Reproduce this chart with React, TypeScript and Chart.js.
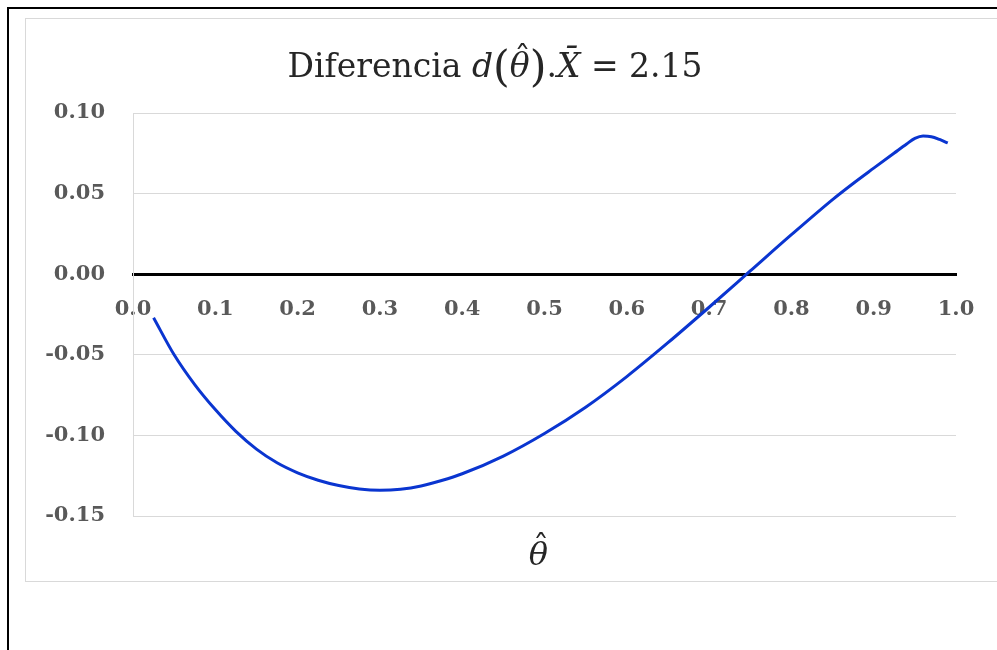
import React, { useEffect, useRef } from "react";
import { Chart, registerables } from "chart.js";

Chart.register(...registerables);

const thetaValues = [0.025, 0.05, 0.075, 0.1, 0.125, 0.15, 0.175, 0.2, 0.225, 0.25, 0.275, 0.3, 0.325, 0.35, 0.375, 0.4, 0.45, 0.5, 0.55, 0.6, 0.65, 0.7, 0.75, 0.8, 0.85, 0.875, 0.9, 0.925, 0.94, 0.95, 0.96, 0.97, 0.98, 0.99];
const diffValues = [-0.027, -0.05, -0.0685, -0.084, -0.0975, -0.1085, -0.117, -0.1232, -0.1278, -0.1311, -0.1332, -0.134, -0.1334, -0.1314, -0.128, -0.1238, -0.1128, -0.0988, -0.0825, -0.0635, -0.0425, -0.0205, 0.002, 0.0245, 0.0463, 0.0563, 0.0658, 0.0752, 0.0808, 0.0842, 0.0857, 0.0853, 0.0836, 0.0814];

const yTicks = [0.1, 0.05, 0, -0.05, -0.1, -0.15];
const xTickStep = 0.1;

type Part = { text: string; style: "normal" | "italic"; size: number; dy: number; accent?: string };
const titleParts: Part[] = [
  { text: "Diferencia ", style: "normal", size: 33, dy: 0 },
  { text: "d", style: "italic", size: 33, dy: 0 },
  { text: "(", style: "normal", size: 43, dy: 4 },
  { text: "\u03B8", style: "italic", size: 33, dy: 0, accent: "\u02C6" },
  { text: ")", style: "normal", size: 43, dy: 4 },
  { text: ".", style: "normal", size: 33, dy: 0 },
  { text: "X\u0304", style: "italic", size: 33, dy: 0 },
  { text: " = 2.15", style: "normal", size: 33, dy: 0 },
];
const axisTitle = "\u03B8";
const axisAccent = "\u02C6";

const SERIF = "'DejaVu Serif', 'Liberation Serif', serif";

function drawAccented(ctx: CanvasRenderingContext2D, text: string, accent: string, x: number, y: number, size: number) {
  ctx.font = `italic ${size}px ${SERIF}`;
  const w = ctx.measureText(text).width;
  ctx.fillText(text, x, y);
  ctx.font = `normal ${size}px ${SERIF}`;
  const aw = ctx.measureText(accent).width;
  ctx.fillText(accent, x + w / 2 - aw / 2 + size * 0.08, y - size * 0.22);
  return w;
}

const textPlugin = {
  id: "customText",
  afterDraw(chart: any) {
    const ctx = chart.ctx as CanvasRenderingContext2D;
    ctx.save();
    ctx.fillStyle = "#262626";
    ctx.textBaseline = "alphabetic";
    ctx.textAlign = "left";
    const widths = titleParts.map((p) => {
      ctx.font = `${p.style} ${p.size}px ${SERIF}`;
      return ctx.measureText(p.text).width;
    });
    const total = widths.reduce((a, b) => a + b, 0);
    let x = 469 - total / 2;
    const baseline = 58;
    titleParts.forEach((p, i) => {
      if (p.accent) {
        drawAccented(ctx, p.text, p.accent, x, baseline + p.dy, p.size);
      } else {
        ctx.font = `${p.style} ${p.size}px ${SERIF}`;
        ctx.fillText(p.text, x, baseline + p.dy);
      }
      x += widths[i];
    });
    const area = chart.chartArea;
    ctx.font = `italic 32px ${SERIF}`;
    const tw = ctx.measureText(axisTitle).width;
    drawAccented(ctx, axisTitle, axisAccent, (area.left + area.right) / 2 - 6 - tw / 2, 546, 32);
    ctx.restore();
  },
};

export default function App() {
  const canvasRef = useRef<HTMLCanvasElement | null>(null);

  useEffect(() => {
    if (!canvasRef.current) return;
    const chart = new Chart(canvasRef.current, {
      type: "line",
      data: {
        datasets: [
          {
            data: thetaValues.map((t, i) => ({ x: t, y: diffValues[i] })),
            borderColor: "#0a35d0",
            borderWidth: 3,
            pointRadius: 0,
            cubicInterpolationMode: "monotone",
            fill: false,
          },
        ],
      },
      options: {
        responsive: false,
        animation: false,
        layout: { padding: { top: 94, bottom: 65, left: 0, right: 60 } },
        plugins: { legend: { display: false }, title: { display: false }, tooltip: { enabled: false } },
        scales: {
          x: {
            type: "linear",
            min: 0,
            max: 1,
            position: { y: 0 } as any,
            grid: { display: false, drawTicks: false },
            border: { display: true, color: "#000000", width: 3 },
            ticks: {
              stepSize: xTickStep,
              padding: 23,
              color: "#595959",
              font: { family: SERIF, size: 21, weight: "bold" },
              callback: (v: any) => Number(v).toFixed(1),
            },
          },
          y: {
            type: "linear",
            min: -0.15,
            max: 0.1,
            afterFit: (s: any) => {
              s.width = 107;
            },
            afterBuildTicks: (s: any) => {
              s.ticks = yTicks.map((v) => ({ value: v }));
            },
            grid: { color: "#d9d9d9", lineWidth: 1, drawTicks: false },
            border: { display: true, color: "#d9d9d9", width: 1 },
            ticks: {
              padding: 28,
              color: "#595959",
              font: { family: SERIF, size: 21, weight: "bold" },
              callback: (v: any) => Number(v).toFixed(2),
            },
          },
        },
      },
      plugins: [textPlugin],
    });
    return () => chart.destroy();
  }, []);

  return (
    <div style={{ position: "fixed", left: 0, top: 0, width: "100vw", height: "100vh", overflow: "hidden", background: "#fff" }}>
      <div
        style={{
          position: "absolute",
          left: 7,
          top: 7,
          width: 1100,
          height: 800,
          borderLeft: "2px solid #000",
          borderTop: "2px solid #000",
        }}
      />
      <div
        style={{
          position: "absolute",
          left: 25,
          top: 18,
          width: 1000,
          height: 562,
          border: "1px solid #d9d9d9",
          background: "#fff",
        }}
      >
        <canvas ref={canvasRef} width={990} height={562} style={{ display: "block" }} />
      </div>
    </div>
  );
}
